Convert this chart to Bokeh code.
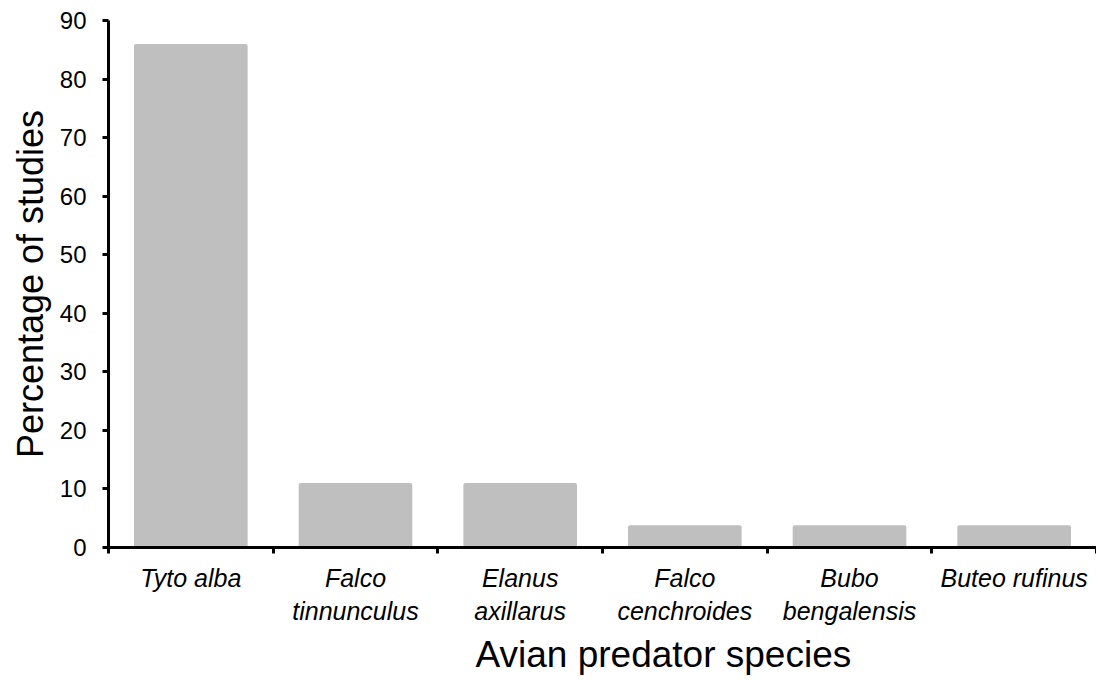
from bokeh.plotting import figure
from bokeh.models import FixedTicker, Range1d, Title
from bokeh.embed import file_html
from bokeh.resources import INLINE

species = ["Tyto alba", "Falco\ntinnunculus", "Elanus\naxillarus",
           "Falco\ncenchroides", "Bubo\nbengalensis", "Buteo rufinus"]
pct = [86, 11, 11, 3.8, 3.8, 3.8]
y_ticks = [0, 10, 20, 30, 40, 50, 60, 70, 80, 90]

n = len(species)
xs = [i + 0.5 for i in range(n)]

p = figure(width=1096, height=680, output_backend="svg", toolbar_location=None,
           x_range=Range1d(0, n), y_range=Range1d(0, 90),
           min_border_left=108, min_border_right=0, min_border_top=20,
           min_border_bottom=133)
p.outline_line_color = None
p.xgrid.grid_line_color = None
p.ygrid.grid_line_color = None
p.background_fill_color = "white"

p.vbar(x=xs, top=pct, width=0.69, fill_color="#BFBFBF", line_color=None,
       border_radius=2)

FONT = "Liberation Sans"

xa = p.xaxis[0]
xa.ticker = FixedTicker(ticks=xs, minor_ticks=list(range(n + 1)))
xa.major_label_overrides = {x: s for x, s in zip(xs, species)}
xa.major_tick_in = 0
xa.major_tick_out = 0
xa.minor_tick_in = 0
xa.minor_tick_out = 6
xa.minor_tick_line_width = 3
xa.minor_tick_line_color = "black"
xa.axis_line_width = 3
xa.axis_line_color = "black"
xa.major_label_text_font = FONT
xa.major_label_text_font_style = "italic"
xa.major_label_text_font_size = "25px"
xa.major_label_text_color = "black"
xa.major_label_standoff = 10

xtitle = Title(text="Avian predator species", align="left", offset=367,
               text_font=FONT, text_font_style="normal", text_font_size="37px",
               text_color="black", standoff=6)
p.add_layout(xtitle, "below")

ya = p.yaxis[0]
ya.ticker = FixedTicker(ticks=y_ticks)
ya.major_tick_in = 0
ya.major_tick_out = 6
ya.major_tick_line_width = 3
ya.minor_tick_line_color = None
ya.axis_line_width = 3
ya.axis_line_color = "black"
ya.major_label_text_font = FONT
ya.major_label_text_font_size = "24px"
ya.major_label_text_color = "black"
ya.major_label_standoff = 16
ya.axis_label = "Percentage of studies"
ya.axis_label_text_font = FONT
ya.axis_label_text_font_style = "normal"
ya.axis_label_text_font_size = "36px"
ya.axis_label_text_color = "black"
ya.axis_label_standoff = 6

open("out.html", "w").write(file_html(p, INLINE))
